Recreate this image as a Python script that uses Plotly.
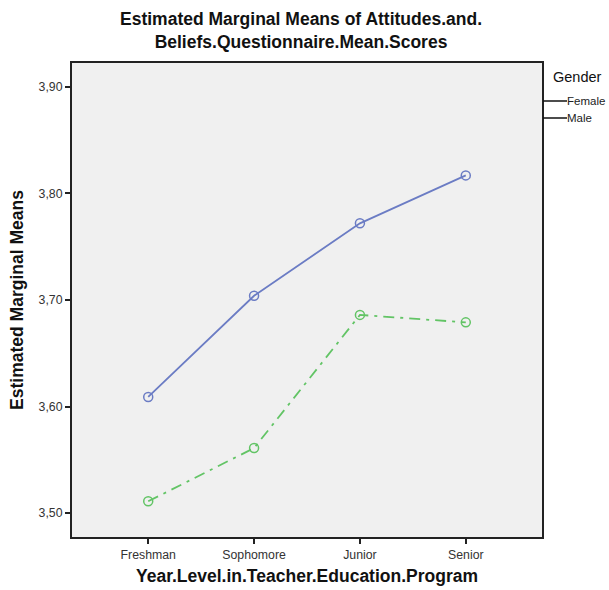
import plotly.graph_objects as go

categories = ["Freshman", "Sophomore", "Junior", "Senior"]
female = [3.609, 3.704, 3.772, 3.817]
male = [3.511, 3.561, 3.686, 3.679]
y_ticks = [3.50, 3.60, 3.70, 3.80, 3.90]
y_tick_labels = ["3,50", "3,60", "3,70", "3,80", "3,90"]

BLUE = "#6b7cc4"
GREEN = "#62c465"

W, H = 609, 590
L, R, T, B = 72, 67, 63, 53
PW = W - L - R
PH = H - T - B


def px_(xpx):
    return (xpx - L) / PW


def py(ypx):
    return (H - B - ypx) / PH


fig = go.Figure()
fig.add_trace(go.Scatter(
    x=categories, y=female, mode="lines+markers", name="Female",
    line=dict(color=BLUE, width=1.8),
    marker=dict(symbol="circle-open", size=9, color=BLUE, line=dict(width=1.5)),
))
fig.add_trace(go.Scatter(
    x=categories, y=male, mode="lines+markers", name="Male",
    line=dict(color=GREEN, width=1.8, dash="11px,6px,3px,6px"),
    marker=dict(symbol="circle-open", size=9, color=GREEN, line=dict(width=1.5)),
))

fig.update_layout(
    width=W, height=H,
    margin=dict(l=L, r=R, t=T, b=B, autoexpand=False),
    paper_bgcolor="white", plot_bgcolor="#f0f0f0",
    showlegend=False,
    font=dict(family="Liberation Sans, Arial, sans-serif", color="#222"),
)
fig.update_xaxes(
    type="category", range=[-0.72, 3.72],
    showline=True, linecolor="#222", linewidth=2, mirror=True,
    ticks="outside", ticklen=5, tickwidth=1.5, tickcolor="#222",
    showgrid=False, zeroline=False,
    tickfont=dict(size=12.3, color="#333"),
    title=dict(text="<b>Year.Level.in.Teacher.Education.Program</b>",
               font=dict(size=17.5, color="#111"), standoff=9),
)
fig.update_yaxes(
    range=[3.4775, 3.9225], tickvals=y_ticks, ticktext=y_tick_labels,
    showline=True, linecolor="#222", linewidth=2, mirror=True,
    ticks="outside", ticklen=5, tickwidth=1.5, tickcolor="#222",
    showgrid=False, zeroline=False,
    tickfont=dict(size=12.3, color="#333"),
    title=dict(text="<b>Estimated Marginal Means</b>",
               font=dict(size=17.5, color="#111"), standoff=10),
)

# Title as annotation
fig.add_annotation(xref="paper", yref="paper", x=px_(301), y=py(30),
                   text="<b>Estimated Marginal Means of Attitudes.and.<br>Beliefs.Questionnaire.Mean.Scores</b>",
                   showarrow=False, xanchor="center", yanchor="middle",
                   font=dict(size=17.5, color="#111"))

# Legend drawn manually to mimic the SPSS style
fig.add_annotation(xref="paper", yref="paper", x=px_(551), y=py(77),
                   text="Gender", showarrow=False, xanchor="left", yanchor="middle",
                   font=dict(size=14.5, color="#111"))
for name, ypx in [("Female", 101), ("Male", 118)]:
    yp = py(ypx)
    fig.add_shape(type="line", xref="paper", yref="paper",
                  x0=px_(543), x1=px_(567), y0=yp, y1=yp, line=dict(color="#111", width=1.5))
    fig.add_annotation(xref="paper", yref="paper", x=px_(565), y=yp, text=name,
                       showarrow=False, xanchor="left", yanchor="middle",
                       font=dict(size=11.5, color="#222"))

fig.write_html("out.html", config={"displayModeBar": False},
               post_script="document.body.style.margin='0';document.body.style.overflow='hidden';")
